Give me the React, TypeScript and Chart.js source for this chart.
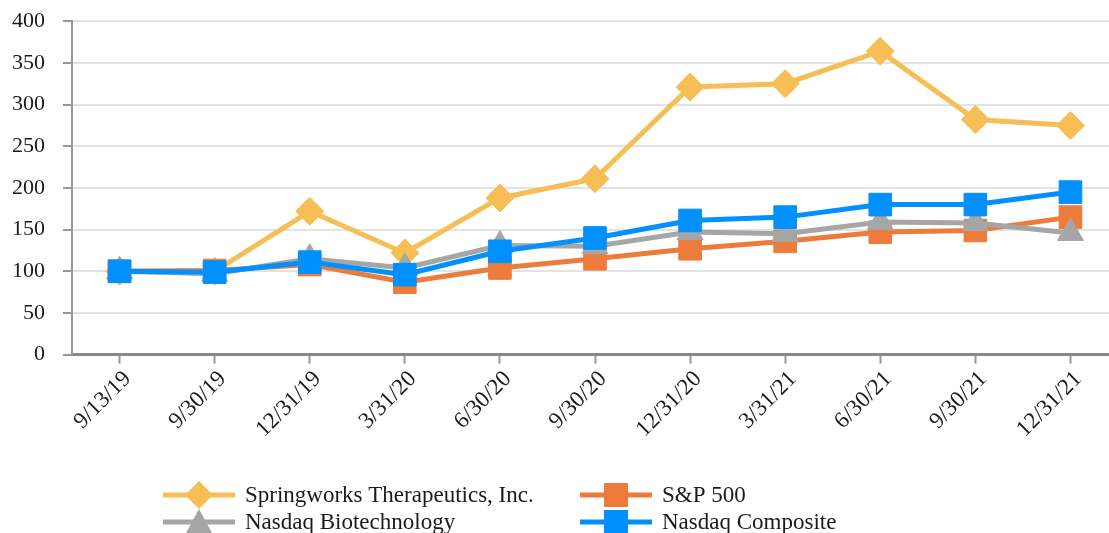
import React, { useEffect, useRef } from "react";
import { Chart, registerables } from "chart.js";

Chart.register(...registerables);

const categories = ["9/13/19", "9/30/19", "12/31/19", "3/31/20", "6/30/20", "9/30/20", "12/31/20", "3/31/21", "6/30/21", "9/30/21", "12/31/21"];
const springworks = [100, 100, 172, 122, 188, 211, 321, 325, 364, 282, 275];
const sp500 = [100, 101, 108, 87, 104, 115, 127, 136, 147, 149, 165];
const nasdaqBiotech = [100, 97, 115, 104, 131, 130, 147, 145, 159, 158, 146];
const nasdaqComposite = [100, 99, 111, 96, 124, 140, 161, 165, 180, 180, 195];
const yTicks = [0, 50, 100, 150, 200, 250, 300, 350, 400];

const FONT = '"Liberation Serif", "Times New Roman", serif';
const SHIFT_X = 16;
const SHIFT_Y = 10;

const legendPos = [
  { x: 163 + SHIFT_X, y: 495 + SHIFT_Y },
  { x: 580 + SHIFT_X, y: 495 + SHIFT_Y },
  { x: 163 + SHIFT_X, y: 522 + SHIFT_Y },
  { x: 580 + SHIFT_X, y: 522 + SHIFT_Y },
];

function drawMarker(ctx: CanvasRenderingContext2D, style: string, x: number, y: number, color: string) {
  ctx.fillStyle = color;
  ctx.beginPath();
  if (style === "rect") {
    ctx.rect(x - 12, y - 12, 24, 24);
  } else if (style === "rectRot") {
    ctx.moveTo(x, y - 14);
    ctx.lineTo(x + 14, y);
    ctx.lineTo(x, y + 14);
    ctx.lineTo(x - 14, y);
    ctx.closePath();
  } else if (style === "triangle") {
    ctx.moveTo(x, y - 13);
    ctx.lineTo(x + 13, y + 11);
    ctx.lineTo(x - 13, y + 11);
    ctx.closePath();
  }
  ctx.fill();
}

const customLegend = {
  id: "customLegend",
  afterDraw(chart: any) {
    const ctx: CanvasRenderingContext2D = chart.ctx;
    ctx.save();
    chart.data.datasets.forEach((ds: any, i: number) => {
      const p = legendPos[i];
      ctx.strokeStyle = ds.borderColor;
      ctx.lineWidth = 5;
      ctx.beginPath();
      ctx.moveTo(p.x, p.y);
      ctx.lineTo(p.x + 72, p.y);
      ctx.stroke();
      drawMarker(ctx, ds.pointStyle, p.x + 36, p.y, ds.borderColor);
      ctx.fillStyle = "#1a1a1a";
      ctx.font = `23px ${FONT}`;
      ctx.textBaseline = "middle";
      ctx.textAlign = "left";
      ctx.fillText(ds.label, p.x + 82, p.y + 1);
    });
    ctx.restore();
  },
};

export default function App() {
  const ref = useRef<HTMLCanvasElement | null>(null);
  useEffect(() => {
    if (!ref.current) return;
    const mk = (label: string, data: number[], color: string, style: string, radius: number, order: number) => ({
      label,
      data,
      borderColor: color,
      backgroundColor: color,
      pointBackgroundColor: color,
      pointBorderColor: color,
      pointBorderWidth: 1,
      pointStyle: style,
      pointRadius: radius,
      borderWidth: 5,
      tension: 0,
      order,
    });
    const chart = new Chart(ref.current, {
      type: "line",
      data: {
        labels: categories,
        datasets: [
          mk("Springworks Therapeutics, Inc.", springworks, "#F7BE55", "rectRot", 14, 3),
          mk("S&P 500", sp500, "#ED7B3B", "rect", 16, 2),
          mk("Nasdaq Biotechnology", nasdaqBiotech, "#A6A6A6", "triangle", 15, 1),
          mk("Nasdaq Composite", nasdaqComposite, "#0090FF", "rect", 16, 0),
        ],
      },
      options: {
        responsive: false,
        animation: false,
        devicePixelRatio: 1,
        layout: { padding: { left: 10, right: 0, top: 0, bottom: 100 } },
        plugins: { legend: { display: false }, tooltip: { enabled: false } },
        scales: {
          x: {
            offset: true,
            grid: { display: true, drawOnChartArea: false, drawTicks: true, tickLength: 9, tickColor: "#999", tickWidth: 2, offset: false },
            border: { color: "#888", width: 3 },
            ticks: {
              autoSkip: false,
              minRotation: 45,
              maxRotation: 45,
              color: "#1a1a1a",
              font: { family: FONT, size: 23 },
              padding: 2,
              labelOffset: 8,
            },
          },
          y: {
            min: 0,
            max: 400,
            afterBuildTicks: (axis: any) => {
              axis.ticks = yTicks.map((v) => ({ value: v }));
            },
            grid: { color: "#e3e3e3", lineWidth: 2, tickLength: 9, tickColor: "#999", tickWidth: 2 },
            border: { color: "#999", width: 2 },
            ticks: {
              color: "#1a1a1a",
              font: { family: FONT, size: 22 },
              padding: 18,
            },
          },
        },
      },
      plugins: [customLegend],
    });
    return () => chart.destroy();
  }, []);
  return (
    <div style={{ position: "fixed", left: 0, top: 0, width: 1109, height: 533, overflow: "hidden", background: "#fff" }}>
      <canvas ref={ref} width={1151} height={555} style={{ display: "block", position: "absolute", left: -SHIFT_X, top: -SHIFT_Y }} />
    </div>
  );
}
